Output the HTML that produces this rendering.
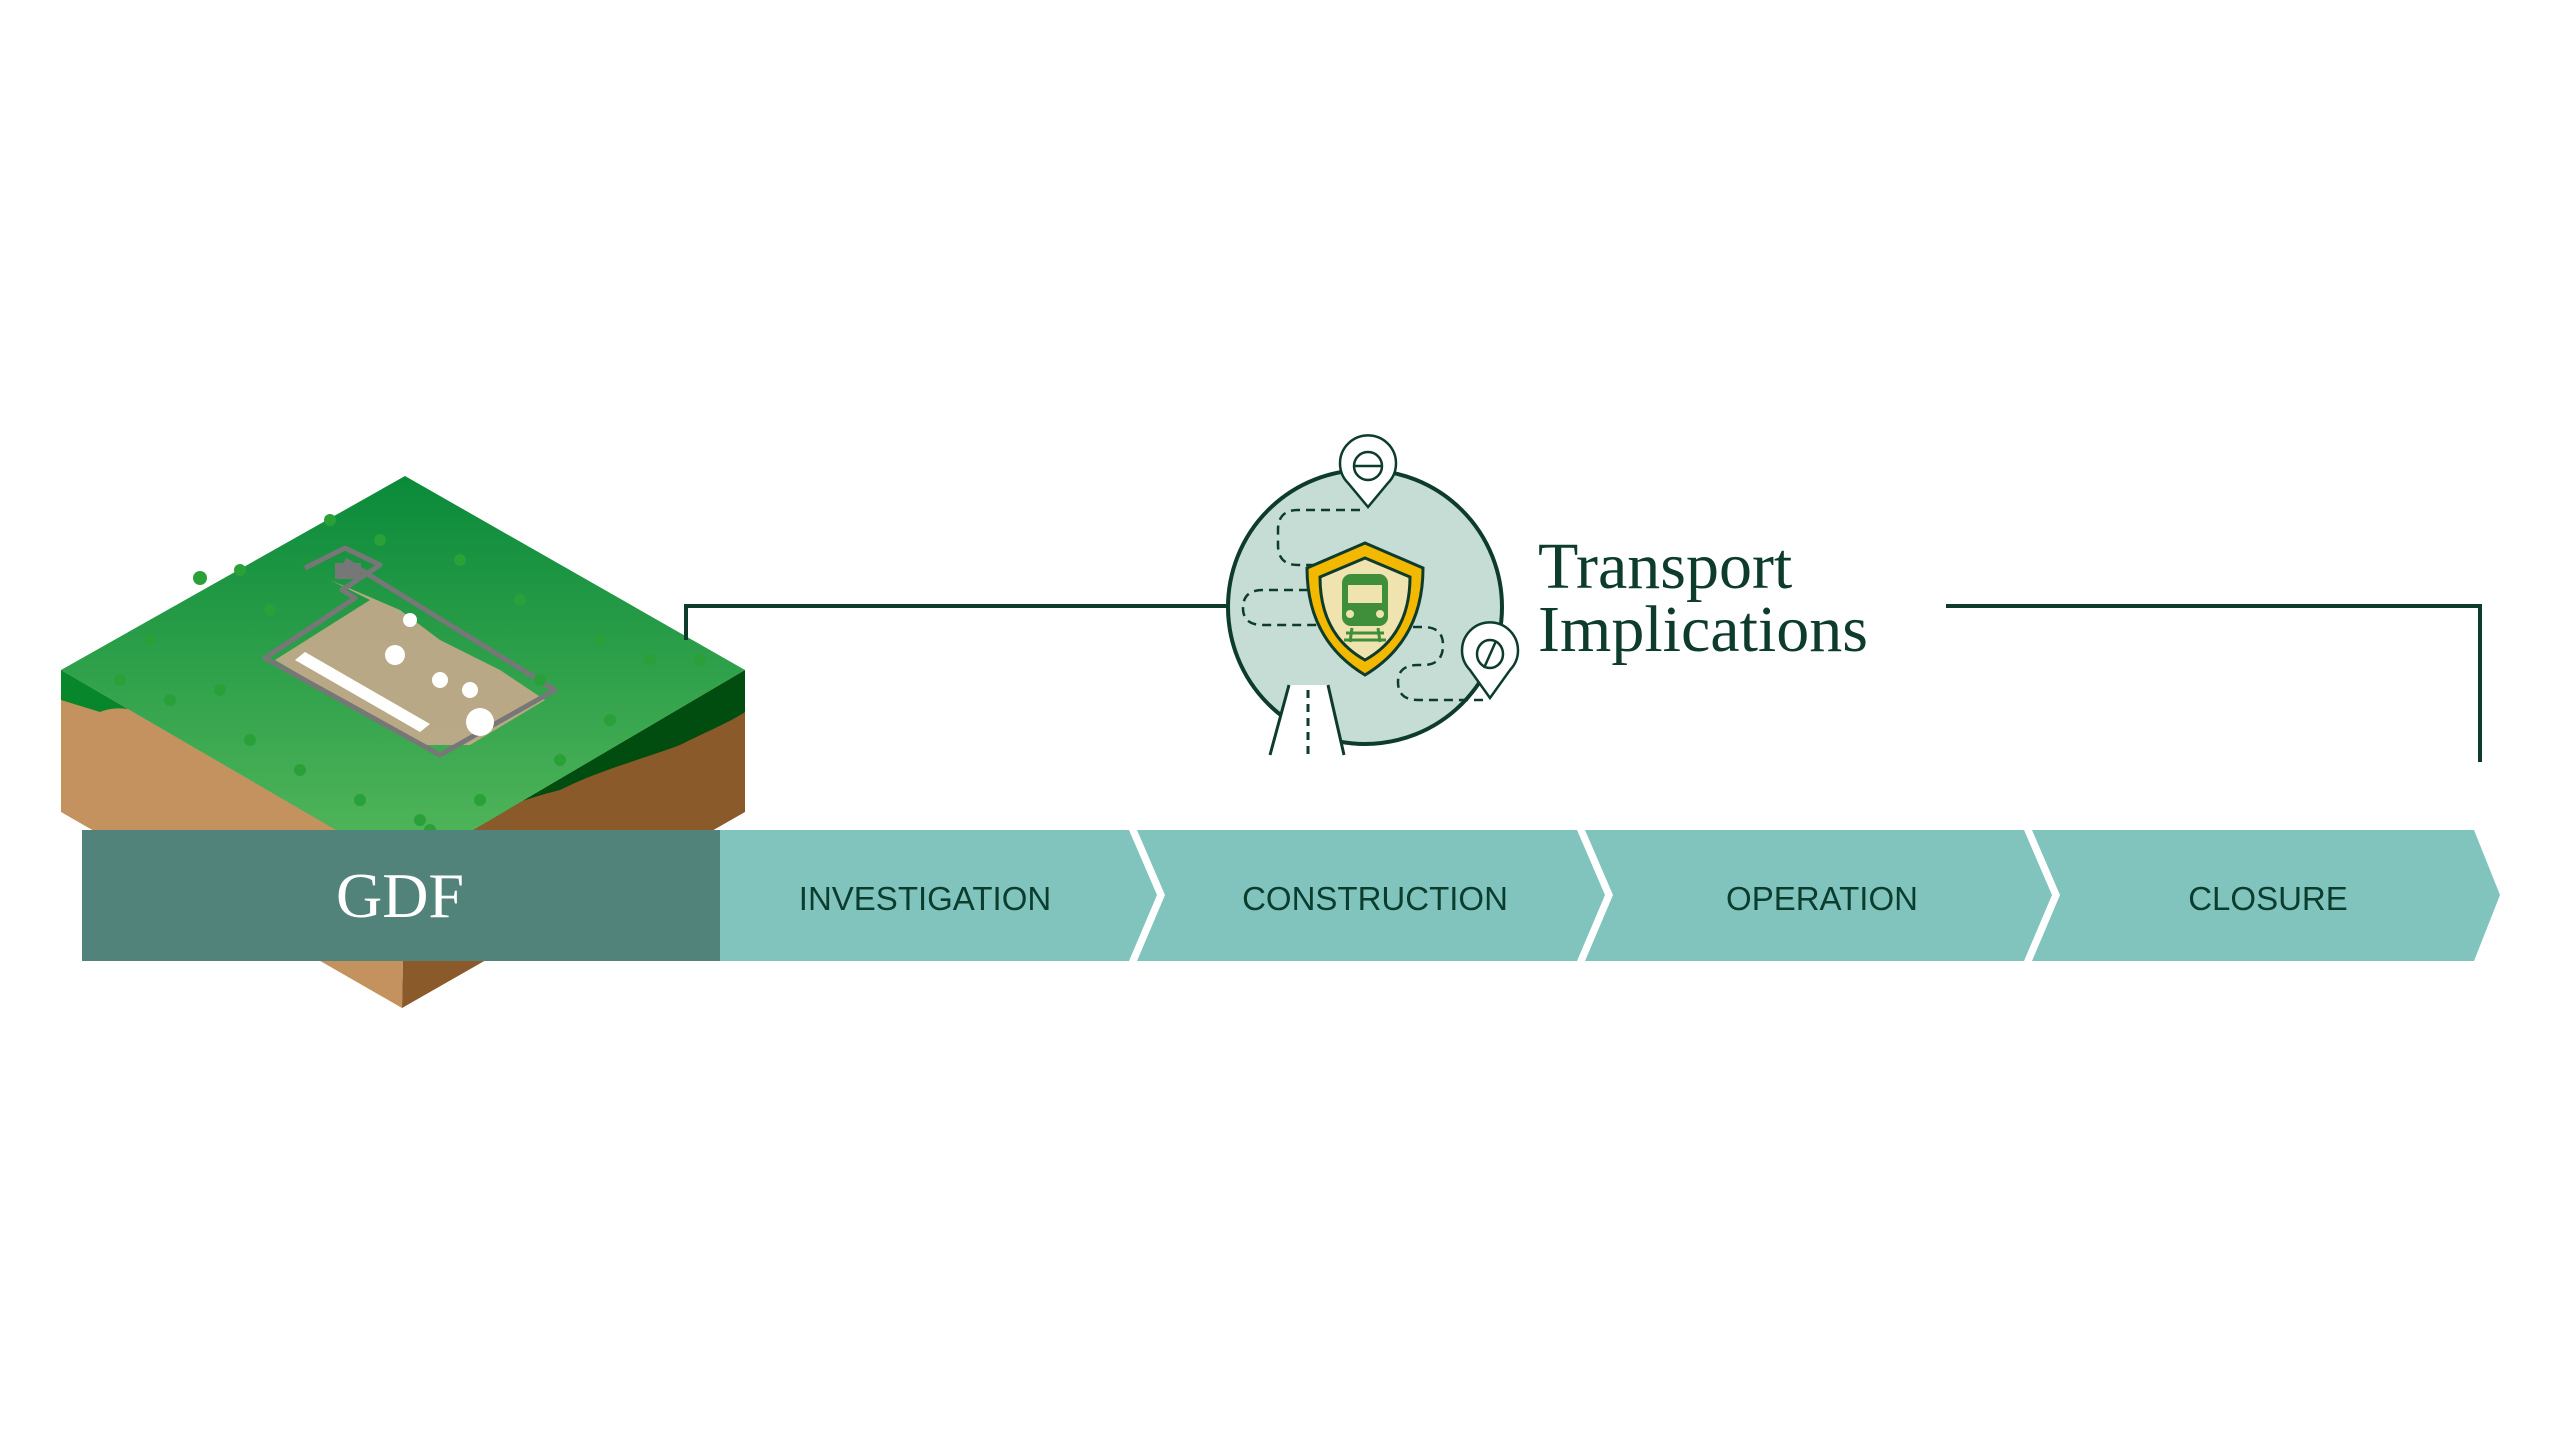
<!DOCTYPE html>
<html><head><meta charset="utf-8"><style>
html,body{margin:0;padding:0;background:#fff;width:2560px;height:1439px;overflow:hidden}
svg{display:block}
</style></head><body>
<svg width="2560" height="1439" viewBox="0 0 2560 1439" xmlns="http://www.w3.org/2000/svg">
<defs>
<linearGradient id="top" x1="0" y1="0" x2="0" y2="1"><stop offset="0" stop-color="#0a8a3a"/><stop offset="1" stop-color="#55b85c"/></linearGradient>
</defs>
<!-- cube -->
<polygon points="61,670 405,870 402,1008 61,812" fill="#c4925e"/>
<polygon points="745,670 405,870 402,1008 745,812" fill="#8a5a2a"/>
<path d="M61,670 L405,870 L405,835 C360,820 330,800 300,790 C260,770 230,755 200,740 C160,720 130,700 100,712 L61,700 Z" fill="#07862b"/>
<path d="M745,670 L405,870 L440,835 C480,815 520,800 560,790 C600,770 640,760 680,745 C710,730 730,722 745,712 Z" fill="#004d0f"/>
<polygon points="405,476 745,670 405,870 61,670" fill="url(#top)"/>
<!-- site -->
<path d="M330,580 L370,600 L275,660 L420,745 L470,745 L545,700 L500,670 L440,640 L400,610 Z" fill="#c8a98c" opacity="0.9"/>
<path d="M305,568 L345,548 L380,565 L342,590 L355,598 L265,658 L440,755 L555,690 L345,560" fill="none" stroke="#777" stroke-width="5" stroke-linejoin="round"/>
<polygon points="295,660 305,652 430,724 420,732" fill="#fff"/>
<rect x="335" y="563" width="26" height="16" fill="#777"/>
<circle cx="480" cy="722" r="14" fill="#fff"/><circle cx="395" cy="655" r="10" fill="#fff"/><circle cx="440" cy="680" r="8" fill="#fff"/><circle cx="470" cy="690" r="8" fill="#fff"/><circle cx="410" cy="620" r="7" fill="#fff"/>
<!-- trees -->
<g fill="#2aa038">
<circle cx="200" cy="578" r="7"/><circle cx="240" cy="570" r="6"/><circle cx="330" cy="520" r="6"/><circle cx="460" cy="560" r="6"/><circle cx="520" cy="600" r="6"/><circle cx="600" cy="640" r="6"/><circle cx="650" cy="660" r="6"/><circle cx="150" cy="640" r="6"/><circle cx="120" cy="680" r="6"/><circle cx="170" cy="700" r="6"/><circle cx="220" cy="690" r="6"/><circle cx="250" cy="740" r="6"/><circle cx="300" cy="770" r="6"/><circle cx="360" cy="800" r="6"/><circle cx="420" cy="820" r="6"/><circle cx="480" cy="800" r="6"/><circle cx="560" cy="760" r="6"/><circle cx="610" cy="720" r="6"/><circle cx="700" cy="660" r="6"/><circle cx="540" cy="680" r="6"/><circle cx="270" cy="610" r="6"/><circle cx="380" cy="540" r="6"/><circle cx="430" cy="830" r="6"/><circle cx="320" cy="860" r="6"/>
</g>
<!-- GDF bar -->
<rect x="82" y="830" width="638" height="131" fill="#52837a"/>
<text x="400" y="917" text-anchor="middle" font-family="Liberation Serif, serif" font-size="64" fill="#fff">GDF</text>
<!-- chevrons -->
<g fill="#80c4bd">
<polygon points="720,830 1129,830 1157,895 1129,961 720,961"/>
<polygon points="1137,830 1577,830 1605,895 1577,961 1137,961 1165,895"/>
<polygon points="1585,830 2024,830 2052,895 2024,961 1585,961 1613,895"/>
<polygon points="2032,830 2474,830 2500,895 2474,961 2032,961 2060,895"/>
</g>
<g font-family="Liberation Sans, sans-serif" font-size="33" fill="#0b3d2e" text-anchor="middle">
<text x="925" y="910">INVESTIGATION</text>
<text x="1375" y="910">CONSTRUCTION</text>
<text x="1822" y="910">OPERATION</text>
<text x="2268" y="910">CLOSURE</text>
</g>
<!-- bracket -->
<polyline points="686,640 686,606 1228,606" fill="none" stroke="#0d3b2c" stroke-width="4"/>
<polyline points="1946,606 2480,606 2480,762" fill="none" stroke="#0d3b2c" stroke-width="4"/>
<!-- circle icon -->
<ellipse cx="1365" cy="607" rx="137" ry="137" fill="#c5ddd4" stroke="#0d3b2c" stroke-width="4"/>
<!-- road -->
<polygon points="1289,685 1328,685 1344,755 1270,755" fill="#fff"/>
<line x1="1289" y1="685" x2="1270" y2="755" stroke="#0d3b2c" stroke-width="3"/>
<line x1="1328" y1="685" x2="1344" y2="755" stroke="#0d3b2c" stroke-width="3"/>
<line x1="1308" y1="690" x2="1308" y2="755" stroke="#0d3b2c" stroke-width="3" stroke-dasharray="8,6"/>
<!-- dashed paths -->
<g fill="none" stroke="#0d3b2c" stroke-width="2.5" stroke-dasharray="9,6">
<path d="M1360,510 L1298,510 Q1278,510 1278,530 L1278,545 Q1278,565 1298,565 L1338,565"/>
<path d="M1338,590 L1263,590 Q1243,590 1243,608 Q1243,625 1263,625 L1343,625"/>
<path d="M1398,627 L1423,627 Q1443,627 1443,645 Q1443,665 1423,665 L1418,665 Q1398,665 1398,682 Q1398,700 1418,700 L1488,700"/>
</g>
<!-- shield -->
<path d="M1365,543 L1423,568 Q1423,640 1365,675 Q1307,640 1307,568 Z" fill="#f3b800" stroke="#0d3b2c" stroke-width="3"/>
<path d="M1365,558 L1410,577 Q1410,635 1365,660 Q1320,635 1320,577 Z" fill="#efe3b0" stroke="#0d3b2c" stroke-width="3"/>
<rect x="1342" y="574" width="46" height="52" rx="9" fill="#3f8f3a"/>
<rect x="1348" y="585" width="34" height="18" fill="#efe3b0"/>
<circle cx="1350" cy="614" r="4" fill="#efe3b0"/><circle cx="1380" cy="614" r="4" fill="#efe3b0"/>
<g stroke="#3f8f3a" stroke-width="3"><line x1="1346" y1="633" x2="1384" y2="633"/><line x1="1352" y1="628" x2="1350" y2="642"/><line x1="1378" y1="628" x2="1380" y2="642"/><line x1="1344" y1="640" x2="1386" y2="640"/></g>
<!-- pins -->
<path d="M1368,507 L1348,483 A28,28 0 1 1 1388,483 Z" fill="#fff" stroke="#0d3b2c" stroke-width="2.5"/>
<ellipse cx="1368" cy="466" rx="14" ry="14" fill="none" stroke="#0d3b2c" stroke-width="2.5"/>
<line x1="1354" y1="466" x2="1382" y2="466" stroke="#0d3b2c" stroke-width="2.5"/>
<path d="M1490,698 L1470,670 A28,28 0 1 1 1510,670 Z" fill="#fff" stroke="#0d3b2c" stroke-width="2.5"/>
<ellipse cx="1490" cy="654" rx="13" ry="14" fill="none" stroke="#0d3b2c" stroke-width="2.5"/>
<line x1="1496" y1="641" x2="1484" y2="668" stroke="#0d3b2c" stroke-width="2.5"/>
<!-- title -->
<g font-family="Liberation Serif, serif" font-size="66" fill="#0d3b2c">
<text x="1538" y="588">Transport</text>
<text x="1538" y="651">Implications</text>
</g>
</svg>
</body></html>
